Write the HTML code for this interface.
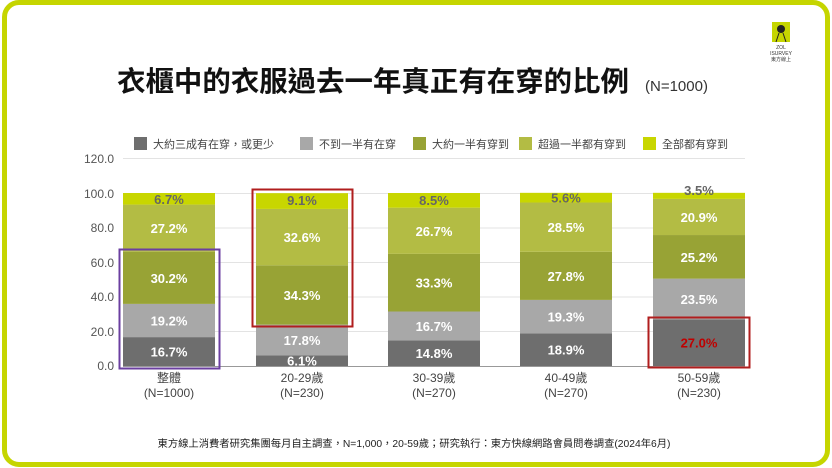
<!DOCTYPE html>
<html><head><meta charset="utf-8"><style>
html,body{margin:0;padding:0;background:#fff;}
body{width:832px;height:468px;position:relative;overflow:hidden;font-family:"Liberation Sans","Noto Sans CJK TC",sans-serif;}
.frame{position:absolute;left:2px;top:0;width:818px;height:457px;border:5px solid #c5d500;border-radius:17px;}
svg{position:absolute;left:0;top:0;}
</style></head><body>
<div class="frame"></div>
<svg width="832" height="468" viewBox="0 0 832 468" font-family="Liberation Sans, Noto Sans CJK TC, sans-serif">
<rect x="772" y="22" width="18" height="20" fill="#c5d500"/>
<circle cx="781" cy="29" r="4" fill="#222"/>
<path d="M779 33 L776 42 M783 33 L786 42" stroke="#222" stroke-width="1"/>
<text x="781" y="49" font-size="5" text-anchor="middle" fill="#333">ZOL</text>
<text x="781" y="55" font-size="5" text-anchor="middle" fill="#333">ISURVEY</text>
<text x="781" y="61" font-size="5" text-anchor="middle" fill="#333">東方線上</text>
<text x="117" y="91" font-size="28" font-weight="bold" fill="#111" textLength="512" lengthAdjust="spacingAndGlyphs">衣櫃中的衣服過去一年真正有在穿的比例</text>
<text x="645" y="91" font-size="15" fill="#333">(N=1000)</text>
<g font-size="11" fill="#444">
<rect x="134" y="137" width="13" height="13" fill="#6e6e6e"/><text x="153" y="148">大約三成有在穿，或更少</text>
<rect x="300" y="137" width="13" height="13" fill="#a8a8a8"/><text x="319" y="148">不到一半有在穿</text>
<rect x="413" y="137" width="13" height="13" fill="#98a335"/><text x="432" y="148">大約一半有穿到</text>
<rect x="519" y="137" width="13" height="13" fill="#b3bc44"/><text x="538" y="148">超過一半都有穿到</text>
<rect x="643" y="137" width="13" height="13" fill="#c8d600"/><text x="662" y="148">全部都有穿到</text>
</g>
<g stroke="#e3e3e3" stroke-width="1">
<line x1="123" y1="158.5" x2="745" y2="158.5"/>
<line x1="123" y1="193.5" x2="745" y2="193.5"/>
<line x1="123" y1="228" x2="745" y2="228"/>
<line x1="123" y1="262.5" x2="745" y2="262.5"/>
<line x1="123" y1="297" x2="745" y2="297"/>
<line x1="123" y1="331.5" x2="745" y2="331.5"/>
</g>
<line x1="123" y1="366.5" x2="745" y2="366.5" stroke="#999"/>
<g font-size="12" fill="#555" text-anchor="end">
<text x="114" y="163">120.0</text><text x="114" y="198">100.0</text><text x="114" y="232">80.0</text>
<text x="114" y="267">60.0</text><text x="114" y="301">40.0</text><text x="114" y="336">20.0</text><text x="114" y="370">0.0</text>
</g>
<g id="bars" font-size="13" font-weight="bold" text-anchor="middle"></g>
<rect x="119.5" y="249.5" width="100" height="119" fill="none" stroke="#6b3fa0" stroke-width="2"/>
<rect x="252.5" y="189.5" width="100" height="137" fill="none" stroke="#b01e1e" stroke-width="2"/>
<rect x="648.5" y="317.5" width="101" height="50" fill="none" stroke="#b01e1e" stroke-width="2"/>
<g font-size="12" fill="#444" text-anchor="middle">
<text x="169" y="382">整體</text><text x="169" y="397">(N=1000)</text>
<text x="302" y="382">20-29歲</text><text x="302" y="397">(N=230)</text>
<text x="434" y="382">30-39歲</text><text x="434" y="397">(N=270)</text>
<text x="566" y="382">40-49歲</text><text x="566" y="397">(N=270)</text>
<text x="699" y="382">50-59歲</text><text x="699" y="397">(N=230)</text>
</g>
<text x="414" y="447" font-size="10.3" fill="#222" text-anchor="middle">東方線上消費者研究集團每月自主調查，N=1,000，20-59歲；研究執行：東方快線網路會員問卷調查(2024年6月)</text>
</svg>
<script>
var data=[[16.7,19.2,30.2,27.2,6.7],[6.1,17.8,34.3,32.6,9.1],[14.8,16.7,33.3,26.7,8.5],[18.9,19.3,27.8,28.5,5.6],[27.0,23.5,25.2,20.9,3.5]];
var cols=["#6e6e6e","#a8a8a8","#98a335","#b3bc44","#c8d600"];
var xs=[123,256,388,520,653],w=92,y0=366,s=1.73,g=document.getElementById('bars'),h='';
data.forEach(function(d,i){var cum=0;d.forEach(function(v,j){var top=y0-(cum+v)*s,ht=v*s;h+='<rect x="'+xs[i]+'" y="'+top+'" width="'+w+'" height="'+ht+'" fill="'+cols[j]+'"/>';
var cy=top+ht/2+5,fill='#fff';if(j==4){fill='#666';cy=Math.min(cy,top+12);if(v<5)cy=top+2;}
if(i==4&&j==0)fill='#c00000';
h+='<text x="'+(xs[i]+w/2)+'" y="'+cy+'" fill="'+fill+'">'+v.toFixed(1)+'%</text>';cum+=v;});});
g.innerHTML=h;
</script>
</body></html>
